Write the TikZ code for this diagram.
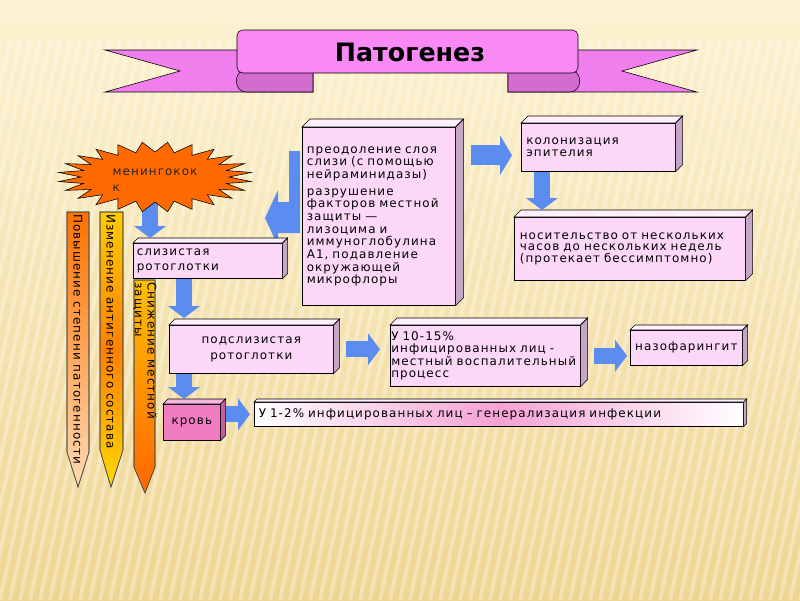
\documentclass[tikz,border=0pt]{standalone}
\usepackage{fontspec}
\setmainfont{DejaVu Sans}[LetterSpace=9]
\newfontfamily\titlefont{DejaVu Sans}
\usetikzlibrary{positioning, calc, arrows.meta}

\definecolor{bgtop}{HTML}{FCF2D2}
\definecolor{bgbot}{HTML}{EFD592}
\definecolor{ribbonmain}{HTML}{F98AF5}
\definecolor{ribbontail}{HTML}{F07EEC}
\definecolor{ribbonfold}{HTML}{D26CCE}
\definecolor{boxpink}{HTML}{FDD7F8}
\definecolor{boxtop}{HTML}{FFF0FE}
\definecolor{boxside}{HTML}{C4A6C6}
\definecolor{bloodpink}{HTML}{F07CC2}
\definecolor{bloodtop}{HTML}{F9B6DE}
\definecolor{bloodside}{HTML}{C45E9C}
\definecolor{genpink}{HTML}{F4A2D4}
\definecolor{arrowblue}{HTML}{5B8CF0}
\definecolor{starorange}{HTML}{FF6A00}

% top and right faces of a 3D box: node, depth, top colour, side colour
\newcommand\boxsides[4]{%
  \filldraw[thin, fill=#3] (#1.north west) -- ++(#2,-#2) -- ($(#1.north east)+(#2,-#2)$) -- (#1.north east) -- cycle;
  \filldraw[thin, fill=#4] (#1.north east) -- ++(#2,-#2) -- ($(#1.south east)+(#2,-#2)$) -- (#1.south east) -- cycle;}

\tikzset{slidetext/.style={font=\fontsize{8.5}{9}\selectfont}, % text of the slide
box/.style={ % front face of every box
draw, thin, fill=boxpink, anchor=north west,
inner sep=0.05cm, align=left, slidetext},
blockarrow/.style={ % blue block arrows
draw=arrowblue, line width=0.4cm,
-{Triangle[width=0.8cm, length=0.3cm, line width=0pt]}},
widearrow/.style={draw=arrowblue, line width=0.5cm,
-{Triangle[width=1cm, length=0.3cm, line width=0pt]}},
bar/.style={draw=black!70, thin}, % the three pencils on the left
bartext/.style={rotate=-90, anchor=west, inner sep=0pt, slidetext},
stripe/.style={white, opacity=0.3, line width=0.1cm},
ribbon/.style={draw, thin}}

\begin{document}
\begin{tikzpicture}[x=0.025cm, y=-0.025cm]

    \useasboundingbox (0,0) rectangle (800,600);
    \shade[top color=bgtop, bottom color=bgbot] (0,0) rectangle (800,600);
    \begin{scope}
    \clip (0,40) rectangle (800,600);
    \foreach \i in {0,...,95} \draw[stripe] (\i*10-20,40) -- (\i*10-140,600);
    \end{scope}

    \filldraw[ribbon, fill=ribbontail] (105,50) -- (313,50) -- (313,92) -- (105,92) -- (180,71) -- cycle;
    \filldraw[ribbon, fill=ribbontail] (697,50) -- (508,50) -- (508,92) -- (697,92) -- (622,71) -- cycle;
    \filldraw[ribbon, fill=ribbonfold] (313,70) -- (313,92) -- (246,92) to[out=180,in=180,looseness=1.5] (246,70) -- cycle;
    \filldraw[ribbon, fill=ribbonfold] (508,70) -- (508,92) -- (570,92) to[out=0,in=0,looseness=1.5] (570,70) -- cycle;
    \filldraw[ribbon, fill=ribbonmain, rounded corners=4pt] (237,30) rectangle (578,73);
    \node[font=\titlefont\bfseries\fontsize{18}{20}\selectfont] (title) at (410,52) {Патогенез};

    \shade[bar, top color=orange!90!red, bottom color=orange!30!white] (67,212) -- (89,212) -- (89,452) -- (78,487) -- (67,452) -- cycle;
    \shade[bar, top color=yellow!60!orange, bottom color=yellow!70!orange, middle color=orange] (100,212) -- (123,212) -- (123,450) -- (111,487) -- (100,450) -- cycle;
    \shade[bar, top color=yellow!50!orange, bottom color=orange!80!red] (134,280) -- (155,280) -- (155,467) -- (145,493) -- (134,467) -- cycle;
    \draw[bar] (67,212) -- (89,212) -- (89,452) -- (78,487) -- (67,452) -- cycle;
    \draw[bar] (100,212) -- (123,212) -- (123,450) -- (111,487) -- (100,450) -- cycle;
    \draw[bar] (134,280) -- (155,280) -- (155,467) -- (145,493) -- (134,467) -- cycle;
    \node[bartext] (patog) at (78,214) {Повышение степени патогенности};
    \node[bartext] (antig) at (111,214) {Изменение антигенного состава};
    \node[bartext, align=left] (mestn) at (145,282) {Снижение местной\\защиты};

    \fill[arrowblue] (300,151) -- ++(-11,0) -- ++(0,51) -- ++(-11,0) -- ++(0,-12) -- ++(-13,28) -- ++(13,28) -- ++(0,-13) -- ++(22,0) -- cycle;

    \node[box, minimum width=3.825cm, minimum height=4.45cm, text width=3.6cm] (prob) at (302,127)
        {преодоление слоя\\слизи (с помощью\\нейраминидазы)\\[3pt]разрушение\\факторов местной\\защиты —\\лизоцима и\\иммуноглобулина\\А1, подавление\\окружающей\\микрофлоры};
    \boxsides{prob}{8}{boxtop}{boxside}
    \node[box, minimum width=3.85cm, minimum height=1.2cm, text width=3.6cm] (kolon) at (521,123) {колонизация\\эпителия};
    \boxsides{kolon}{7}{boxtop}{boxside}
    \node[box, minimum width=5.775cm, minimum height=1.575cm, text width=5.5cm, font=\fontsize{8.5}{7.5}\selectfont] (nosit) at (514,217)
        {носительство от нескольких\\часов до нескольких недель\\(протекает бессимптомно)};
    \boxsides{nosit}{7}{boxtop}{boxside}
    \node[box, minimum width=3.725cm, minimum height=0.875cm, text width=3.55cm] (sliz) at (133,243) {слизистая\\[2pt]ротоглотки};
    \boxsides{sliz}{5}{boxtop}{boxside}
    \node[box, minimum width=4.1cm, minimum height=1.2cm, align=center] (podsl) at (169,325) {подслизистая\\[2pt]ротоглотки};
    \boxsides{podsl}{6}{boxtop}{boxside}
    \node[box, fill=bloodpink, minimum width=1.425cm, minimum height=0.9cm, align=center] (krov) at (163,404) {кровь};
    \boxsides{krov}{5}{bloodtop}{bloodside}
    \node[box, left color=white, right color=white, middle color=genpink, minimum width=12.225cm, minimum height=0.6cm, text width=12cm] (gener) at (254,402)
        {У 1-2\% инфицированных лиц – генерализация инфекции};
    \boxsides{gener}{3}{boxtop}{boxside}
    \node[box, minimum width=4.75cm, minimum height=1.525cm, text width=4.7cm, inner xsep=0pt] (u1015) at (390,325)
        {У 10-15\%\\инфицированных лиц -\\местный воспалительный\\процесс};
    \boxsides{u1015}{7}{boxtop}{boxside}
    \node[box, minimum width=2.8cm, minimum height=0.875cm, align=center] (nazo) at (630,330) {назофарингит};
    \boxsides{nazo}{5}{boxtop}{boxside}

    \draw[widearrow] ($(prob.east |- kolon.west)+(15,8)$) -- ($(kolon.west)+(-9,8)$);
    \draw[blockarrow] ($(kolon.south west)+(21,0)$) -- ($(nosit.north west)+(28,-7)$);
    \draw[blockarrow] ($(sliz.north west)+(17,-50)$) -- ($(sliz.north west)+(17,-5)$);
    \draw[blockarrow] ($(sliz.south west)+(51,0)$) -- ($(podsl.north west)+(15,-7)$);
    \draw[blockarrow] ($(podsl.south west)+(15,0)$) -- ($(krov.north west)+(21,-5)$);
    \draw[blockarrow] ($(krov.east)+(5,-8)$) -- ($(gener.west |- krov.east)+(-4,-8)$);
    \draw[blockarrow] ($(podsl.east)+(12,0)$) -- ($(u1015.west |- podsl.east)+(-10,0)$);
    \draw[blockarrow] ($(u1015.east)+(13,0)$) -- ($(nazo.west |- u1015.east)+(-3,0)$);

    \filldraw[thin, fill=starorange] plot[domain=0:48, samples=49, variable=\t]
        ({155+(74+23*mod(round(\t),2))*cos(\t*7.5)}, {177+(25+10*mod(round(\t),2))*sin(\t*7.5)}) -- cycle;
    \node[slidetext, align=left, text=black!85] (menin) at (155,180) {менингокок\\[2pt]к};

\end{tikzpicture}
\end{document}
